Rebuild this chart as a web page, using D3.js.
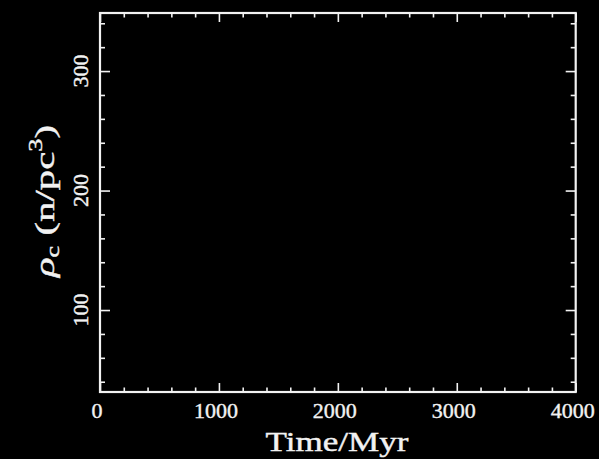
<!DOCTYPE html>
<html>
<head>
<meta charset="utf-8">
<script src="https://cdn.jsdelivr.net/npm/d3@7"></script>
<style>
  html, body { margin: 0; padding: 0; background: #000; }
  svg { display: block; }
</style>
</head>
<body>
<svg id="chart" width="599" height="459"></svg>
<script>
// Axis ranges and tick labels
const timeDomain = [0, 4000];
const densityDomain = [31.4, 348.6];
const timeMajorTicks = [0, 1000, 2000, 3000, 4000];
const timeMinorStep = 200;
const densityMajorTicks = [100, 200, 300];
const densityMinorStep = 20;
// No series plotted in this panel
const seriesTime = [];
const seriesDensity = [];

const W = 599, H = 459;
const frame = { left: 100, right: 575.7, top: 13, bottom: 392 };
const ink = "#f2f2f2";
const font = "'Liberation Serif', 'Times New Roman', serif";

const svg = d3.select("#chart");
svg.append("rect").attr("width", W).attr("height", H).attr("fill", "#000");

const x = d3.scaleLinear().domain(timeDomain).range([frame.left, frame.right]);
const y = d3.scaleLinear().domain(densityDomain).range([frame.bottom, frame.top]);

const xMinor = d3.range(timeDomain[0], timeDomain[1] + 1e-6, timeMinorStep)
  .filter(v => !timeMajorTicks.includes(v));
const yMinor = d3.range(40, densityDomain[1], densityMinorStep)
  .filter(v => !densityMajorTicks.includes(v));

function tickAxis(gen, scale, values, size, tx, ty) {
  const g = svg.append("g")
    .attr("transform", `translate(${tx},${ty})`)
    .call(gen(scale).tickValues(values).tickSize(-size).tickFormat(""));
  g.select(".domain").remove();
  g.selectAll("line").attr("stroke", ink).attr("stroke-width", 1.6);
  return g;
}

// Inward ticks on all four sides
tickAxis(d3.axisBottom, x, timeMajorTicks, 9, 0, frame.bottom);
tickAxis(d3.axisBottom, x, xMinor, 4.5, 0, frame.bottom);
tickAxis(d3.axisTop, x, timeMajorTicks, 9, 0, frame.top);
tickAxis(d3.axisTop, x, xMinor, 4.5, 0, frame.top);
tickAxis(d3.axisLeft, y, densityMajorTicks, 10, frame.left, 0);
tickAxis(d3.axisLeft, y, yMinor, 5, frame.left, 0);
tickAxis(d3.axisRight, y, densityMajorTicks, 10, frame.right, 0);
tickAxis(d3.axisRight, y, yMinor, 5, frame.right, 0);

// Frame
svg.append("rect")
  .attr("x", frame.left).attr("y", frame.top)
  .attr("width", frame.right - frame.left).attr("height", frame.bottom - frame.top)
  .attr("fill", "none").attr("stroke", ink).attr("stroke-width", 2.2);

// Series line (empty)
svg.append("path")
  .datum(seriesTime.map((t, i) => [t, seriesDensity[i]]))
  .attr("fill", "none").attr("stroke", ink)
  .attr("d", d3.line().x(d => x(d[0])).y(d => y(d[1])));

// Tick labels
svg.append("g").selectAll("text")
  .data(timeMajorTicks).join("text")
  .attr("x", d => x(d) - 3).attr("y", 418)
  .attr("text-anchor", "middle")
  .attr("font-family", font).attr("font-size", 22)
  .attr("stroke", ink).attr("stroke-width", 0.4)
  .attr("fill", ink)
  .text(d => d);

svg.append("g").selectAll("text")
  .data(densityMajorTicks).join("text")
  .attr("transform", d => `translate(88,${y(d)}) rotate(-90)`)
  .attr("text-anchor", "middle")
  .attr("font-family", font).attr("font-size", 22)
  .attr("stroke", ink).attr("stroke-width", 0.4)
  .attr("fill", ink)
  .text(d => d);

// Axis titles
svg.append("text")
  .attr("x", 337).attr("y", 451)
  .attr("text-anchor", "middle")
  .attr("font-family", font).attr("font-size", 27)
  .attr("textLength", 143).attr("lengthAdjust", "spacingAndGlyphs")
  .attr("stroke", ink).attr("stroke-width", 0.4)
  .attr("fill", ink)
  .text("Time/Myr");

const yt = svg.append("text")
  .attr("transform", "translate(54,201) rotate(-90)")
  .attr("text-anchor", "middle")
  .attr("font-family", font).attr("font-size", 28)
  .attr("textLength", 152).attr("lengthAdjust", "spacingAndGlyphs")
  .attr("stroke", ink).attr("stroke-width", 0.4)
  .attr("fill", ink);
yt.append("tspan").attr("font-style", "italic").text("ρ");
yt.append("tspan").attr("font-size", 18).attr("dy", 5).text("c");
yt.append("tspan").attr("dy", -5).text(" (n/pc");
yt.append("tspan").attr("font-size", 18).attr("dy", -12).text("3");
yt.append("tspan").attr("dy", 12).text(")");
</script>
</body>
</html>
